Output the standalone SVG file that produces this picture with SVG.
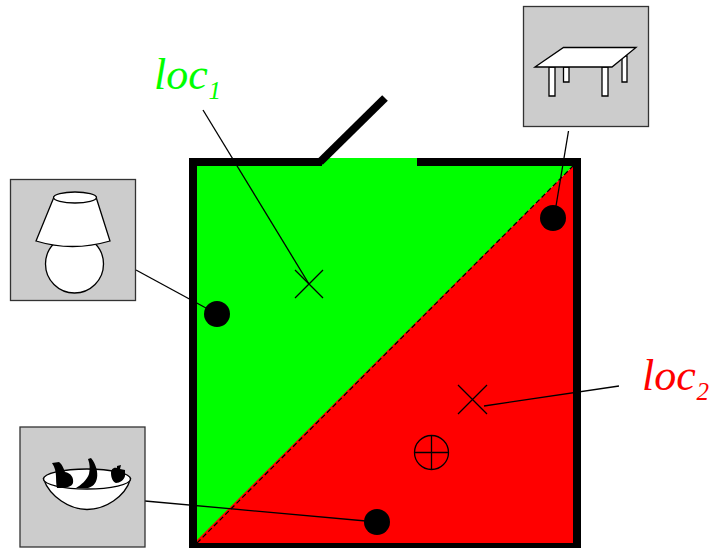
<svg xmlns="http://www.w3.org/2000/svg" width="709" height="548" viewBox="0 0 709 548">
<style>
.box{fill:#ccc;stroke:#333;stroke-width:1.3}
.o{fill:#fff;stroke:#000;stroke-width:1.3}
.ln{fill:none;stroke:#000;stroke-width:1.3}
.wall{fill:none;stroke:#000;stroke-width:8}
.dot{fill:#000}
.lbl{font-family:"Liberation Serif",serif;font-style:italic;font-size:44px}
.sub{font-family:"Liberation Serif",serif;font-style:italic;font-size:25px}
</style>
<rect width="709" height="548" fill="#fff"/>
<g id="room">
<polygon points="193,162 322,162 322,158 417,158 417,162 577,162 193,547" fill="#0f0"/>
<polygon points="577,162 577,544 193,544" fill="#f00"/>
<line x1="197" y1="543" x2="573" y2="166" stroke="#000" stroke-width="1.2" stroke-dasharray="5 3"/>
<path class="wall" d="M322,162H193V547H577V162H417"/>
<path d="M320,162L385,98" fill="none" stroke="#000" stroke-width="8"/>
</g>
<g id="connectors">
<line class="ln" x1="203" y1="110" x2="309" y2="284"/>
<line class="ln" x1="484" y1="406" x2="619" y2="386"/>
<line class="ln" x1="136" y1="270" x2="217" y2="314"/>
<line class="ln" x1="145" y1="501" x2="377" y2="522"/>
<line class="ln" x1="568.500" y1="131" x2="554" y2="218"/>
</g>
<g id="marker-loc1"><path class="ln" d="M295,270L323,298M323,270L295,298"/></g>
<g id="marker-loc2"><path class="ln" d="M458,385L487,414M487,385L458,414"/></g>
<g id="robot"><circle class="ln" cx="431.500" cy="452.500" r="17"/><path class="ln" d="M414.500,452.500H448.500M431.500,435.500V469.500"/></g>
<g id="dot-lamp"><circle class="dot" cx="217" cy="314" r="13"/></g>
<g id="dot-table"><circle class="dot" cx="553" cy="218" r="13"/></g>
<g id="dot-bowl"><circle class="dot" cx="377" cy="522" r="13"/></g>
<g id="label-loc1"><text class="lbl" x="154" y="89" fill="#0f0">loc</text><text class="sub" x="208.500" y="99" fill="#0f0">1</text></g>
<g id="label-loc2"><text class="lbl" x="642" y="390" fill="#f00">loc</text><text class="sub" x="696.500" y="400" fill="#f00">2</text></g>
<g id="lamp">
<rect class="box" x="10.500" y="179.500" width="125" height="121"/>
<circle class="o" cx="74.500" cy="264" r="29"/>
<path class="o" d="M54,197L36,241Q72,252 110,241L96,197Z"/>
<ellipse class="o" cx="75" cy="197.500" rx="21.500" ry="5.500"/>
</g>
<g id="bowl">
<rect class="box" x="20" y="427" width="125" height="120"/>
<path class="o" d="M43.500,479C50,497 70,509.500 87,509.500C105,509.500 125,497 130.500,479Z"/>
<ellipse class="o" cx="87" cy="479" rx="43.500" ry="10"/>
<path class="dot" d="M52,463L59,462C63,465 64,470 65,472C71,473 74,478 73,483C72,487 66,488 57,488C55,480 58,472 52,463Z"/>
<path class="dot" d="M88,459L91,458C96,464 98,472 97,478C96,484 92,487 88,488L76,488C81,485 87,480 89,474C90,469 90,464 88,459Z"/>
<path class="dot" d="M117,466L121,465L120,469L125,470L125,476C124,480 120,483 116,483C113,482 111,478 111,473C111,470 113,467 117,468Z"/>
</g>
<g id="table">
<rect class="box" x="523.500" y="6.500" width="125" height="120"/>
<path class="o" d="M563.500,67H569V82H563.500ZM622,56H627V82H622ZM549,67H555V96H549ZM602,67H608V96H602Z"/>
<path class="o" d="M535,67L563.500,47.500H636L612,67Z"/>
</g>
</svg>
